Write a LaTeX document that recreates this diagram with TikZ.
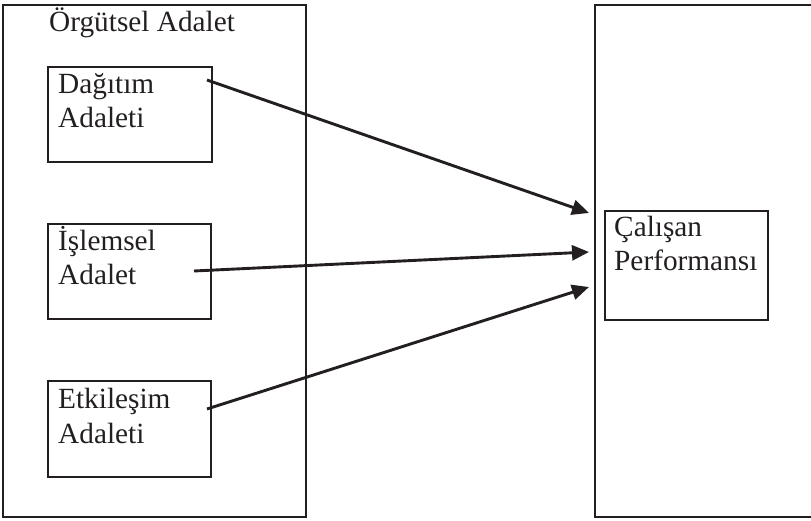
\documentclass[tikz,border=0pt]{standalone}
\usepackage{fontspec}
\setmainfont{Liberation Serif}
\usetikzlibrary{arrows.meta}
\definecolor{ink}{HTML}{231F20}
\begin{document}
\begin{tikzpicture}[x=1pt,y=-1pt,
  frame/.style={draw=ink,line width=2.6pt,inner sep=0pt,outer sep=0pt,anchor=north west},
  box/.style={frame,line width=2.3pt},
  lbl/.style={anchor=base west,inner sep=0pt,text=ink,font=\fontsize{29.3}{34}\selectfont},
  conn/.style={draw=ink,line width=2.9pt,-{Triangle[length=17pt,width=15pt]}}]
\useasboundingbox (0,0) rectangle (811,521);
\clip (0,0) rectangle (811,521);
% outer frames
\node[frame,minimum width=303pt,minimum height=512pt] (L) at (3,5) {};
\node[frame,minimum width=240pt,minimum height=512pt] (R) at (595,5) {};
% inner boxes
\node[box,minimum width=164pt,minimum height=95pt] (b1) at (48,67) {};
\node[box,minimum width=163pt,minimum height=95pt] (b2) at (48,224) {};
\node[box,minimum width=163pt,minimum height=96pt] (b3) at (48,381) {};
\node[box,minimum width=163pt,minimum height=109pt] (b4) at (605,211) {};
% texts
\node[lbl] (t0) at (49,32) {Örgütsel Adalet};
\node[lbl] (t1a) at (58,94) {Dağıtım};
\node[lbl] (t1b) at (58,128) {Adaleti};
\node[lbl] (t2a) at (58,251) {İşlemsel};
\node[lbl] (t2b) at (58,285) {Adalet};
\node[lbl] (t3a) at (58,408) {Etkileşim};
\node[lbl] (t3b) at (58,443) {Adaleti};
\node[lbl] (t4a) at (614,237) {Çalışan};
\node[lbl] (t4b) at (614,271) {Performansı};
% connector ends
\coordinate (s1) at (207,80);
\coordinate (s2) at (194,271);
\coordinate (s3) at (207,409);
\coordinate (e1) at (589,213);
\coordinate (e2) at (589,252);
\coordinate (e3) at (589,287);
\draw[conn] (s1) -- (e1);
\draw[conn] (s2) -- (e2);
\draw[conn] (s3) -- (e3);
\end{tikzpicture}
\end{document}
